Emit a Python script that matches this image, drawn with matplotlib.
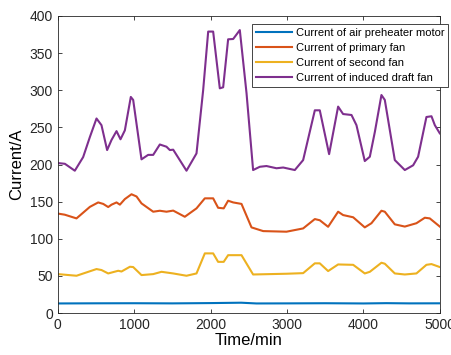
import numpy as np
import matplotlib.pyplot as plt

plt.rcParams['font.family'] = ['Liberation Sans', 'DejaVu Sans']

# air preheater motor
t_air = [0, 500, 1000, 1500, 2000, 2400, 2600, 3000, 3500, 4000, 4300, 4600, 5000]
i_air = [13, 13.2, 13.3, 13.1, 13.5, 14, 13, 13.1, 13.3, 13, 13.4, 13.1, 13.2]

# primary fan
t_pri = [0, 90, 244, 419, 528, 594, 659, 703, 768, 812, 877, 964, 1030, 1095, 1248,
         1335, 1422, 1510, 1662, 1815, 1924, 2033, 2098, 2171, 2229, 2295, 2404, 2535,
         2688, 2993, 3211, 3364, 3429, 3538, 3669, 3734, 3866, 4018, 4105, 4236, 4280,
         4411, 4542, 4694, 4804, 4869, 5000]
i_pri = [134, 132.5, 127.5, 143, 149, 147, 142.8, 146, 149, 146, 153.5, 160, 157, 147.7, 136.5,
         137.8, 136.5, 138, 129.7, 141, 154.5, 154.5, 141.8, 141, 151.3, 149, 147, 115.4,
         110.4, 109.6, 114, 126.6, 125, 116.2, 136.5, 132, 129, 115.4, 121, 137.8, 136.5,
         119.5, 116.5, 121, 128.4, 127.5, 116.5]

# second fan
t_sec = [0, 244, 506, 571, 659, 790, 833, 943, 986, 1095, 1248, 1357, 1510, 1684, 1815,
         1924, 2033, 2098, 2171, 2229, 2404, 2556, 2993, 3211, 3364, 3429, 3538, 3669,
         3866, 4018, 4084, 4236, 4280, 4411, 4542, 4694, 4825, 4891, 5000]
i_sec = [52.5, 50.3, 59.3, 58, 53.4, 57, 56, 62.4, 62, 51.2, 52.5, 55.6, 53.4, 50.3, 53.4,
         80.4, 80.4, 69, 69, 78, 78, 52, 53, 53.8, 67, 67, 56.6, 65.5,
         65, 53.4, 55.6, 67.8, 66.5, 53.4, 52, 53.4, 65, 66, 62]

# induced draft fan
t_ind = [0, 92, 222, 331, 419, 506, 571, 645, 702, 768, 820, 877, 955, 986, 1095, 1182,
         1248, 1335, 1422, 1466, 1510, 1684, 1815, 1902, 1968, 2033, 2120, 2164, 2229,
         2295, 2382, 2470, 2556, 2644, 2731, 2862, 2950, 3102, 3211, 3364, 3429, 3551,
         3669, 3734, 3844, 3909, 4018, 4084, 4150, 4236, 4280, 4411, 4542, 4651, 4716,
         4825, 4891, 4935, 5000]
i_ind = [202, 201, 191.7, 210, 237, 262, 253, 219.5, 233, 245, 234, 246, 291, 287, 207, 213,
         213, 227, 224, 219.5, 220, 191.7, 215, 300, 379, 379, 302.6, 304, 368.6,
         369, 381, 296, 192.6, 197, 198, 195, 196, 192.6, 206, 273, 273, 214,
         278, 268, 266.7, 253, 204.7, 210.5, 244, 293.6, 287, 206, 192.6, 199, 210.5,
         264, 265, 253, 242]

labels = ['Current of air preheater motor', 'Current of primary fan',
          'Current of second fan', 'Current of induced draft fan']
colors = ['#0072BD', '#D95319', '#EDB120', '#7E2F8E']

fig = plt.figure(figsize=(4.52, 3.55), dpi=100)
ax = fig.add_axes([0.128, 0.118, 0.845, 0.837])

series = [(t_air, i_air), (t_pri, i_pri), (t_sec, i_sec), (t_ind, i_ind)]
for (t, v), lab, c in zip(series, labels, colors):
    ax.plot(t, v, color=c, lw=1.5, label=lab)

ax.set_xlim(0, 5000)
ax.set_ylim(0, 400)
ax.set_xticks(np.arange(0, 5001, 1000))
ax.set_yticks(np.arange(0, 401, 50))
ax.tick_params(direction='in', top=True, right=True, labelsize=10, colors='#262626',
               length=3, width=0.6)
for s in ax.spines.values():
    s.set_linewidth(0.6)
    s.set_color('#262626')

ax.set_xlabel('Time/min', fontsize=12, labelpad=1)
ax.set_ylabel('Current/A', fontsize=12, labelpad=4)

leg = ax.legend(loc='upper left', bbox_to_anchor=(0.508, 0.973), fontsize=8,
                fancybox=False, edgecolor='#262626', framealpha=1,
                handlelength=3.3, handletextpad=0.3, borderpad=0.35,
                labelspacing=0.45, borderaxespad=0)
leg.get_frame().set_linewidth(0.6)

plt.savefig('out.png', dpi=100)
